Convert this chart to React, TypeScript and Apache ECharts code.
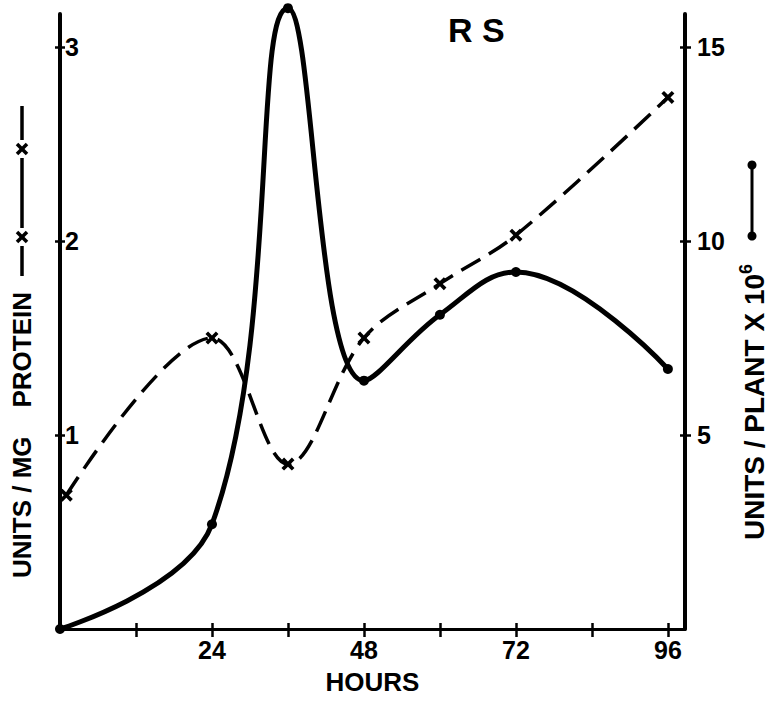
import React, { useEffect, useRef } from "react";
import * as echarts from "echarts";

const hours = [0, 24, 36, 48, 60, 72, 96];
const proteinHours = [1, 24, 36, 48, 60, 72, 96];
const proteinUnits = [0.69, 1.5, 0.85, 1.5, 1.78, 2.03, 2.74];
const plantUnits = [0, 2.7, 16.0, 6.4, 8.1, 9.2, 6.7];
const xTickValues = [12, 24, 36, 48, 60, 72, 84, 96];
const xLabelValues = [24, 48, 72, 96];
const leftTicks = [1, 2, 3];
const rightTicks = [5, 10, 15];

const FONT = "Liberation Sans";
const X_MARK = "path://M2,0 L5,3 L8,0 L10,2 L7,5 L10,8 L8,10 L5,7 L2,10 L0,8 L3,5 L0,2 Z";

export default function App() {
  const ref = useRef<HTMLDivElement>(null);
  useEffect(() => {
    if (!ref.current) return;
    const chart = echarts.init(ref.current, null, { renderer: "svg" });
    const axisText = { color: "#000", fontFamily: FONT, fontWeight: "bold" as const, fontSize: 25 };
    const blk = { color: "#000", width: 2.5 };
    const xMarkLines = (cx: number, cy: number) => [
      { type: "line", shape: { x1: cx - 5, y1: cy - 5, x2: cx + 5, y2: cy + 5 }, style: { stroke: "#000", lineWidth: 3.5 } },
      { type: "line", shape: { x1: cx - 5, y1: cy + 5, x2: cx + 5, y2: cy - 5 }, style: { stroke: "#000", lineWidth: 3.5 } },
    ];
    const noZero = { onZero: false };
    chart.setOption({
      animation: false,
      backgroundColor: "#fff",
      title: {
        text: "R S",
        left: 443,
        top: 8,
        textStyle: { fontFamily: FONT, fontWeight: "bold", fontSize: 34, color: "#000" },
      },
      grid: { left: 60, right: 94, top: 14, bottom: 76, outerBoundsMode: "none" },
      xAxis: [
        {
          type: "value",
          min: 0,
          max: 98.7,
          name: "HOURS",
          nameLocation: "middle",
          nameGap: 40,
          nameTextStyle: { ...axisText, fontSize: 26 },
          splitLine: { show: false },
          axisLine: { ...noZero, lineStyle: { color: "#000", width: 3 } },
          axisTick: { customValues: xTickValues, length: 8, lineStyle: blk },
          axisLabel: { customValues: xLabelValues, margin: 8, ...axisText },
        },
        {
          type: "value",
          position: "bottom",
          min: 0,
          max: 98.7,
          splitLine: { show: false },
          axisLine: { show: false, ...noZero },
          axisTick: { customValues: xTickValues, inside: true, length: 6, lineStyle: blk },
          axisLabel: { show: false },
        },
      ],
      yAxis: [
        {
          type: "value",
          min: 0,
          max: 3.17,
          position: "left",
          splitLine: { show: false },
          axisLine: { show: true, ...noZero, lineStyle: { color: "#000", width: 4 } },
          axisTick: { show: true, customValues: leftTicks, length: 5, lineStyle: blk },
          axisLabel: { customValues: leftTicks, inside: true, margin: 5, ...axisText },
        },
        {
          type: "value",
          min: 0,
          max: 15.85,
          position: "right",
          splitLine: { show: false },
          axisLine: { show: true, ...noZero, lineStyle: { color: "#000", width: 4 } },
          axisTick: { show: true, customValues: rightTicks, length: 6, lineStyle: blk },
          axisLabel: { customValues: rightTicks, margin: 12, ...axisText },
        },
        {
          type: "value",
          min: 0,
          max: 3.17,
          position: "left",
          splitLine: { show: false },
          axisLine: { show: false, ...noZero },
          axisTick: { show: true, customValues: leftTicks, inside: true, length: 5, lineStyle: blk },
          axisLabel: { show: false },
        },
        {
          type: "value",
          min: 0,
          max: 15.85,
          position: "right",
          splitLine: { show: false },
          axisLine: { show: false, ...noZero },
          axisTick: { show: true, customValues: rightTicks, inside: true, length: 5, lineStyle: blk },
          axisLabel: { show: false },
        },
      ],
      graphic: [
        {
          type: "text",
          x: 9,
          y: 578,
          rotation: Math.PI / 2,
          style: {
            text: "UNITS / MG    PROTEIN",
            font: `bold 26px "${FONT}"`,
            fill: "#000",
            align: "left",
            verticalAlign: "top",
          },
        },
        { type: "line", shape: { x1: 22, y1: 276, x2: 22, y2: 246 }, style: { stroke: "#000", lineWidth: 3.5 } },
        { type: "line", shape: { x1: 22, y1: 228, x2: 22, y2: 158 }, style: { stroke: "#000", lineWidth: 3.5 } },
        { type: "line", shape: { x1: 22, y1: 140, x2: 22, y2: 106 }, style: { stroke: "#000", lineWidth: 3.5 } },
        ...xMarkLines(22, 237),
        ...xMarkLines(22, 149),
        {
          type: "text",
          x: 737,
          y: 540,
          rotation: Math.PI / 2,
          style: {
            text: "{m|UNITS / PLANT X 10}{s|6}",
            fill: "#000",
            align: "left",
            verticalAlign: "top",
            rich: {
              m: { fontFamily: FONT, fontWeight: "bold", fontSize: 28, lineHeight: 31, verticalAlign: "bottom" },
              s: { fontFamily: FONT, fontWeight: "bold", fontSize: 18, lineHeight: 31, verticalAlign: "top" },
            },
          },
        },
        { type: "line", shape: { x1: 752, y1: 165, x2: 752, y2: 236 }, style: { stroke: "#000", lineWidth: 3 } },
        { type: "circle", shape: { cx: 752, cy: 165, r: 4.5 }, style: { fill: "#000" } },
        { type: "circle", shape: { cx: 752, cy: 236, r: 4.5 }, style: { fill: "#000" } },
      ],
      series: [
        {
          type: "line",
          yAxisIndex: 0,
          data: proteinHours.map((h, i) => [h, proteinUnits[i]]),
          smooth: 0.35,
          clip: false,
          symbol: X_MARK,
          symbolSize: 13,
          itemStyle: { color: "#000" },
          lineStyle: { color: "#000", width: 3.5, type: [22, 10] },
        },
        {
          type: "line",
          yAxisIndex: 1,
          data: hours.map((h, i) => [h, plantUnits[i]]),
          smooth: 0.4,
          clip: false,
          symbol: "circle",
          symbolSize: 10,
          itemStyle: { color: "#000" },
          lineStyle: { color: "#000", width: 5 },
        },
      ],
    });
    return () => chart.dispose();
  }, []);
  return <div ref={ref} style={{ position: "fixed", left: 0, top: 0, width: 779, height: 705 }} />;
}
